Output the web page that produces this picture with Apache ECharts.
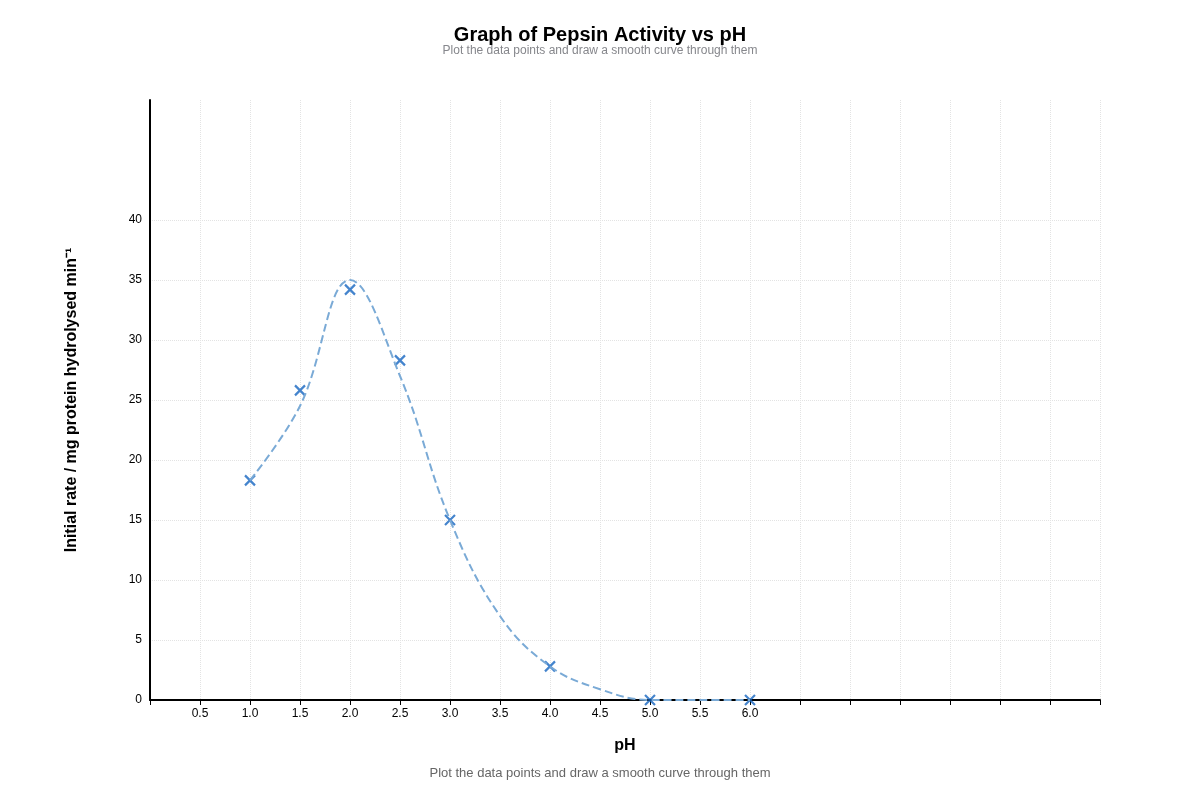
<!DOCTYPE html>
<html><head><meta charset="utf-8">
<script src="https://cdn.jsdelivr.net/npm/echarts@6/dist/echarts.min.js"></script>
<style>html,body{margin:0;padding:0;background:#fff}#c{width:1200px;height:800px}</style>
</head><body><div id="c"></div>
<script>
const phValues = [1.0, 1.5, 2.0, 2.5, 3.0, 4.0, 5.0, 6.0];
const rateValues = [18.3, 25.8, 34.2, 28.3, 15.0, 2.8, 0, 0];
const curvePh = [1.0, 1.5, 2.0, 2.5, 3.0, 3.5, 4.0, 4.5, 5.0, 5.5, 6.0];
const curveRate = [18.3, 24.5, 35.0, 27.0, 15.0, 7.0, 2.8, 0.9, 0, 0, 0];
const chart = echarts.init(document.getElementById('c'));
const F = 'Liberation Sans, Arial, sans-serif';
const ySplitColors = ['rgba(0,0,0,0)','#e3e3e3','#e3e3e3','#e3e3e3','#e3e3e3','#e3e3e3','#e3e3e3','#e3e3e3','#e3e3e3','rgba(0,0,0,0)','rgba(0,0,0,0)'];
const xSplitColors = ['rgba(0,0,0,0)'].concat(Array(19).fill('#e3e3e3'));
chart.setOption({
  animation:false,
  title:{text:'Graph of Pepsin Activity vs pH',left:'center',top:20,textStyle:{fontFamily:F,fontSize:20,fontWeight:'bold',color:'#000'},
    subtext:'Plot the data points and draw a smooth curve through them',itemGap:0},
  graphic:[{type:'text',left:'center',top:767,style:{text:'Plot the data points and draw a smooth curve through them',font:'13px '+F,fill:'#666'}}],
  grid:{left:150,right:100,top:100,bottom:100},
  xAxis:{type:'value',min:0,max:9.5,interval:0.5,name:'pH',nameLocation:'middle',nameGap:38,
    nameTextStyle:{fontFamily:F,fontSize:16,fontWeight:'bold',color:'#000'},
    axisLine:{lineStyle:{color:'#000',width:2}},
    axisTick:{show:true,lineStyle:{color:'#000'},length:5},
    axisLabel:{fontFamily:F,fontSize:12,color:'#000',formatter:v=>(v>0&&v<=6.001)?v.toFixed(1):''},
    splitLine:{show:true,lineStyle:{type:'dotted',color:xSplitColors}}},
  yAxis:{type:'value',min:0,max:50,interval:5,name:'Initial rate / mg protein hydrolysed min⁻¹',nameLocation:'middle',nameGap:70,
    nameTextStyle:{fontFamily:F,fontSize:16,fontWeight:'bold',color:'#000'},
    axisLine:{show:true,lineStyle:{color:'#000',width:2}},
    axisTick:{show:false},
    axisLabel:{fontFamily:F,fontSize:12,color:'#000',formatter:v=>v<=40?String(v):''},
    splitLine:{show:true,lineStyle:{type:'dotted',color:ySplitColors}}},
  series:[
    {type:'line',data:curvePh.map((x,i)=>[x,curveRate[i]]),smooth:0.4,showSymbol:false,
      lineStyle:{type:'dashed',color:'#7aaad6',width:2}},
    {type:'scatter',data:phValues.map((x,i)=>[x,rateValues[i]]),symbol:'path://M0,0L10,10M10,0L0,10',symbolSize:10,
      itemStyle:{color:'none',borderColor:'#1565c0',borderWidth:2.2}}
  ]
});
</script></body></html>
